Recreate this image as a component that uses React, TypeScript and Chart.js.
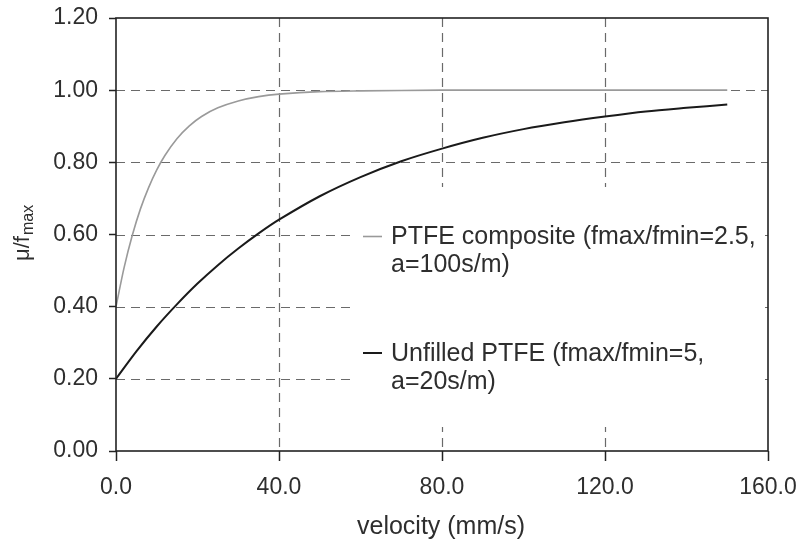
import React, { useEffect, useRef } from "react";
import { Chart, registerables } from "chart.js";

Chart.register(...registerables);

// PTFE composite (fmax/fmin = 2.5, a = 100 s/m)
const compositeVelocity = [0, 2, 4, 6, 8, 10, 12, 15, 18, 21, 25, 30, 35, 40, 50, 60, 80, 100, 120, 150];
const compositeMu = [0.4, 0.509, 0.598, 0.671, 0.73, 0.779, 0.819, 0.866, 0.901, 0.927, 0.951, 0.97, 0.982, 0.989, 0.996, 0.998, 1.0, 1.0, 1.0, 1.0];

// Unfilled PTFE (fmax/fmin = 5, a = 20 s/m)
const unfilledVelocity = [0, 5, 10, 15, 20, 25, 30, 35, 40, 50, 60, 70, 80, 90, 100, 110, 120, 130, 140, 150];
const unfilledMu = [0.2, 0.276, 0.345, 0.407, 0.464, 0.515, 0.561, 0.603, 0.641, 0.706, 0.759, 0.803, 0.838, 0.868, 0.892, 0.911, 0.927, 0.941, 0.951, 0.96];

const xTicks = [0, 40, 80, 120, 160];
const yTicks = [0, 0.2, 0.4, 0.6, 0.8, 1.0, 1.2];

const legendComposite = ["PTFE composite (fmax/fmin=2.5,", "a=100s/m)"];
const legendUnfilled = ["Unfilled PTFE (fmax/fmin=5,", "a=20s/m)"];
const xTitle = "velocity (mm/s)";

const FONT = "'Liberation Sans', Arial, sans-serif";
const TEXT = "#2e2e2e";

const decorPlugin = {
  id: "decor",
  beforeDatasetsDraw(chart: any) {
    const { ctx, chartArea, scales } = chart;
    const xs = scales.x;
    const ys = scales.y;
    ctx.save();
    ctx.strokeStyle = "#6a6a6a";
    ctx.lineWidth = 1.2;
    ctx.setLineDash([9, 6]);
    for (const v of yTicks) {
      if (v === 0 || v === 1.2) continue;
      const py = Math.round(ys.getPixelForValue(v)) + 0.5;
      ctx.beginPath();
      ctx.moveTo(chartArea.left, py);
      ctx.lineTo(chartArea.right, py);
      ctx.stroke();
    }
    for (const v of xTicks) {
      if (v === 0 || v === 160) continue;
      const px = Math.round(xs.getPixelForValue(v)) + 0.5;
      ctx.beginPath();
      ctx.moveTo(px, chartArea.top);
      ctx.lineTo(px, chartArea.bottom);
      ctx.stroke();
    }
    ctx.setLineDash([]);
    // legend background box
    ctx.fillStyle = "#ffffff";
    ctx.fillRect(352, 187, 413, 240);
    ctx.restore();
  },
  afterDraw(chart: any) {
    const { ctx, chartArea } = chart;
    ctx.save();
    // frame
    ctx.strokeStyle = "#222";
    ctx.lineWidth = 1.6;
    ctx.strokeRect(chartArea.left, chartArea.top, chartArea.right - chartArea.left, chartArea.bottom - chartArea.top);

    // legend
    ctx.font = `25px ${FONT}`;
    ctx.textBaseline = "middle";
    ctx.fillStyle = TEXT;
    ctx.lineWidth = 1.6;
    ctx.strokeStyle = "#999";
    ctx.beginPath();
    ctx.moveTo(363, 236.5);
    ctx.lineTo(382, 236.5);
    ctx.stroke();
    ctx.fillText(legendComposite[0], 391, 237);
    ctx.fillText(legendComposite[1], 391, 265);
    ctx.strokeStyle = "#1a1a1a";
    ctx.lineWidth = 2;
    ctx.beginPath();
    ctx.moveTo(363, 353);
    ctx.lineTo(382, 353);
    ctx.stroke();
    ctx.fillText(legendUnfilled[0], 391, 354);
    ctx.fillText(legendUnfilled[1], 391, 382);

    // x title
    ctx.textAlign = "center";
    ctx.textBaseline = "alphabetic";
    ctx.font = `25px ${FONT}`;
    ctx.fillText(xTitle, 441, 534);

    // y title with subscript
    ctx.translate(29, 261);
    ctx.rotate(-Math.PI / 2);
    ctx.textAlign = "left";
    ctx.font = `22px ${FONT}`;
    ctx.fillText("\u03bc/f", 0, 0);
    const w = ctx.measureText("\u03bc/f").width;
    ctx.font = `16px ${FONT}`;
    ctx.fillText("max", w + 1, 4);
    ctx.restore();
  },
};

export default function App() {
  const canvasRef = useRef<HTMLCanvasElement | null>(null);

  useEffect(() => {
    const canvas = canvasRef.current;
    if (!canvas) return;
    const chart = new Chart(canvas, {
      type: "scatter",
      data: {
        datasets: [
          {
            label: "PTFE composite",
            data: compositeVelocity.map((v, i) => ({ x: v, y: compositeMu[i] })),
            showLine: true,
            borderColor: "#9a9a9a",
            borderWidth: 1.6,
            pointRadius: 0,
            tension: 0.3,
            fill: false,
          },
          {
            label: "Unfilled PTFE",
            data: unfilledVelocity.map((v, i) => ({ x: v, y: unfilledMu[i] })),
            showLine: true,
            borderColor: "#1a1a1a",
            borderWidth: 2,
            pointRadius: 0,
            tension: 0.3,
            fill: false,
          },
        ],
      },
      options: {
        responsive: false,
        animation: false,
        layout: { padding: { left: 0, right: 33, top: 18, bottom: 0 } },
        plugins: {
          legend: { display: false },
          tooltip: { enabled: false },
          title: { display: false },
        },
        scales: {
          x: {
            type: "linear",
            min: 0,
            max: 160,
            afterFit: (s: any) => {
              s.height = 96;
              s.paddingLeft = 0;
              s.paddingRight = 0;
            },
            afterBuildTicks: (s: any) => {
              s.ticks = xTicks.map((v) => ({ value: v }));
            },
            ticks: {
              callback: (v: any) => Number(v).toFixed(1),
              font: { family: FONT, size: 23 },
              color: TEXT,
              padding: 13,
              maxRotation: 0,
            },
            grid: {
              drawOnChartArea: false,
              drawTicks: true,
              tickLength: 10,
              tickColor: "#222",
              tickWidth: 1.5,
            },
            border: { display: false },
          },
          y: {
            type: "linear",
            min: 0,
            max: 1.2,
            afterFit: (s: any) => {
              s.width = 116;
              s.paddingTop = 0;
              s.paddingBottom = 0;
            },
            afterBuildTicks: (s: any) => {
              s.ticks = yTicks.map((v) => ({ value: v }));
            },
            ticks: {
              callback: (v: any) => Number(v).toFixed(2),
              font: { family: FONT, size: 23 },
              color: TEXT,
              padding: 11,
            },
            grid: {
              drawOnChartArea: false,
              drawTicks: true,
              tickLength: 7,
              tickColor: "#222",
              tickWidth: 1.5,
            },
            border: { display: false },
          },
        },
      },
      plugins: [decorPlugin],
    });
    return () => chart.destroy();
  }, []);

  return (
    <div style={{ position: "absolute", left: 0, top: 0, width: 801, height: 547, background: "#fff" }}>
      <canvas ref={canvasRef} width={801} height={547} style={{ display: "block" }} />
    </div>
  );
}
